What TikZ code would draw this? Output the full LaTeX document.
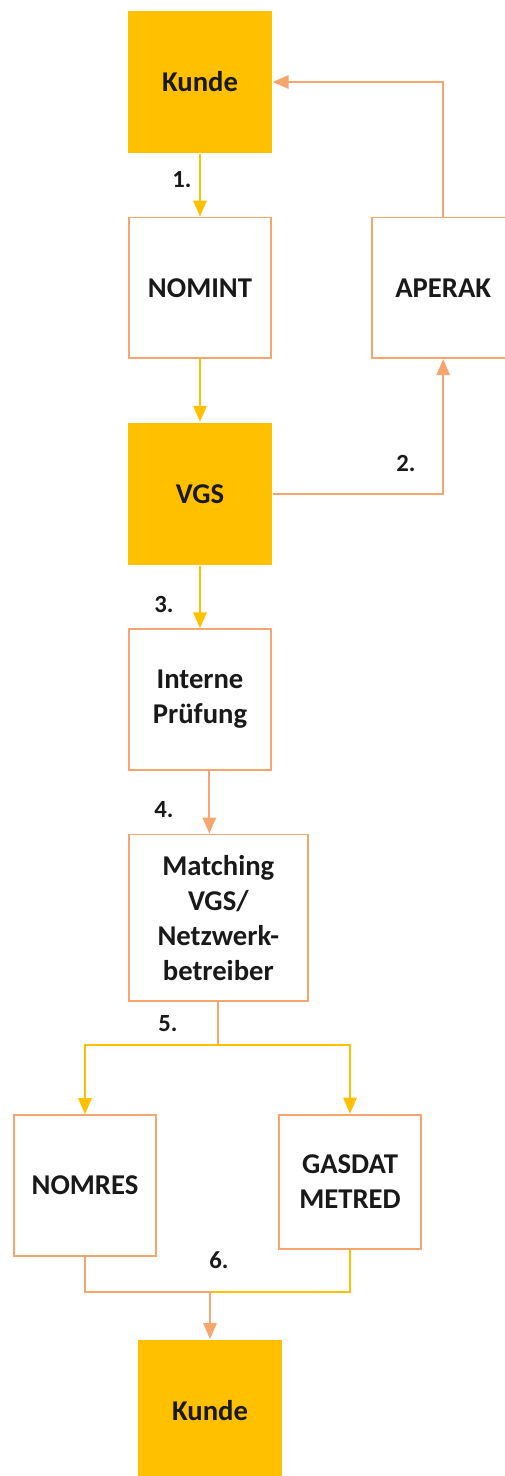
\documentclass[tikz,border=0pt]{standalone}
\usepackage{fontspec}
\setmainfont{Carlito}
\usetikzlibrary{positioning,arrows.meta}
\definecolor{vgsgelb}{HTML}{FFC000}
\definecolor{rahmen}{HTML}{F4A66E}
\newcommand{\boxfont}{\fontsize{21.5}{26.25}\selectfont\bfseries}
\newcommand{\stepfont}{\fontsize{18.5}{22}\selectfont\bfseries}

\tikzset{
	feld/.style={draw=rahmen, line width=1.4pt, fill=white, text=black!90,
		minimum width=106.5pt, minimum height=105.5pt, inner sep=0pt,
		align=center, font=\boxfont},
	partei/.style={feld, draw=none, fill=vgsgelb, minimum width=107.5pt, minimum height=106.5pt},
	gelb/.style={draw=vgsgelb, line width=1.4pt},
	fluss/.style={draw=rahmen, line width=1.4pt},
	pfeil/.style={-{Triangle[length=12pt,width=10pt]}},
	schritt/.style={font=\stepfont, text=black!90, inner sep=0pt},
}

\begin{document}
\begin{tikzpicture}[x=0.75pt, y=-0.75pt, node distance=47pt]
	\useasboundingbox (0,0) rectangle (505,1476);

	\node[partei] (kunde) at (200,82) {Kunde};
	\node[feld, below=of kunde] (nomint) {NOMINT};
	\node[feld, right=74.5pt of nomint] (aperak) {APERAK};
	\node[partei, below=of nomint] (vgs) {VGS};
	\node[feld, below=of vgs] (pruefung) {Interne\\Prüfung};
	\node[feld, below=of pruefung.south west, anchor=north west,
		minimum width=134pt, minimum height=125pt] (matching) {Matching\\VGS/\\Netzwerk-\\betreiber};
	\node[feld] (nomres) at (85,1185.5) {NOMRES};
	\node[feld, minimum height=101pt] (gasdat) at (350,1182) {GASDAT\\METRED};
	\node[partei] (kundeend) at (210,1411) {Kunde};

	\coordinate (p4) at ([xshift=7pt]pruefung.south);
	\coordinate (split) at ([yshift=-32pt]matching.south);
	\coordinate (join) at (kundeend.north |- 0,1292);

	\draw[gelb, pfeil] (kunde) -- (nomint);
	\draw[gelb, pfeil] (nomint) -- (vgs);
	\draw[fluss, pfeil] (vgs.east) -| (aperak.south);
	\draw[fluss, pfeil] (aperak.north) |- (kunde.east);
	\draw[gelb, pfeil] (vgs) -- (pruefung);
	\draw[fluss, pfeil] (p4) -- (p4 |- matching.north);
	\draw[fluss] (matching.south) -- (split);
	\draw[gelb, pfeil] (split) -| (nomres.north);
	\draw[gelb, pfeil] (split) -| (gasdat.north);
	\draw[fluss] (nomres.south) |- (join);
	\draw[gelb] (gasdat.south) |- (join);
	\draw[fluss, pfeil] (join) -- (kundeend.north);

	\node[schritt] (s1) at (182,180) {1.};
	\node[schritt] (s2) at (406,463) {2.};
	\node[schritt] (s3) at (164,604) {3.};
	\node[schritt] (s4) at (164,810) {4.};
	\node[schritt] (s5) at (168,1024) {5.};
	\node[schritt] (s6) at (219,1260) {6.};
\end{tikzpicture}
\end{document}
